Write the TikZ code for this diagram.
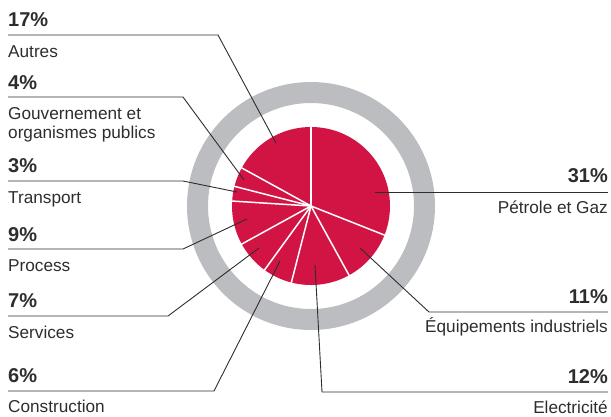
\documentclass[tikz,border=0pt]{standalone}
\usepackage{fontspec}
\setmainfont{Liberation Sans}
\definecolor{piered}{RGB}{210,20,68}
\definecolor{ringgray}{RGB}{188,189,192}
\definecolor{ink}{RGB}{45,45,45}
\begin{document}
\begin{tikzpicture}[x=1pt,y=-1pt,
  pct/.style={font=\fontsize{20}{24}\selectfont\bfseries, text=ink, inner sep=0pt},
  lbl/.style={font=\fontsize{17.2}{19.3}\selectfont, text=ink, inner sep=0pt, align=left},
  lblr/.style={font=\fontsize{17.2}{19.3}\selectfont, text=ink, inner sep=0pt, align=right},
  leader/.style={draw=ink, line width=0.9pt},
  sep/.style={draw=white, line width=1.5pt}]
\useasboundingbox (0,0) rectangle (611,416);
% pie and ring
\coordinate (c) at (311,206);
\draw[ringgray, line width=21pt] (c) circle[radius=113.5];
\fill[piered] (c) circle[radius=79];
\foreach \a in {-90,21.6,61.2,104.4,126,151.2,183.6,194.4,208.8}
  \draw[sep] (c) -- ++(\a:80);
% left labels
\node[pct, anchor=base west] (p17) at (8,26) {17\%};
\node[lbl, anchor=base west] (l17) at (8,57) {Autres};
\node[pct, anchor=base west] (p4) at (8,89) {4\%};
\node[lbl, anchor=base west] (l4) at (8,138.5) {Gouvernement et\\organismes publics};
\node[pct, anchor=base west] (p3) at (8,172) {3\%};
\node[lbl, anchor=base west] (l3) at (8,203) {Transport};
\node[pct, anchor=base west] (p9) at (8,241) {9\%};
\node[lbl, anchor=base west] (l9) at (8,271) {Process};
\node[pct, anchor=base west] (p7) at (8,307) {7\%};
\node[lbl, anchor=base west] (l7) at (8,338) {Services};
\node[pct, anchor=base west] (p6) at (8,382) {6\%};
\node[lbl, anchor=base west] (l6) at (8,412) {Construction};
% right labels
\node[pct, anchor=base east] (p31) at (608,182) {31\%};
\node[lblr, anchor=base east] (l31) at (608,213) {Pétrole et Gaz};
\node[pct, anchor=base east] (p11) at (608,303) {11\%};
\node[lblr, anchor=base east] (l11) at (608,332) {Équipements industriels};
\node[pct, anchor=base east] (p12) at (608,383) {12\%};
\node[lblr, anchor=base east] (l12) at (608,413) {Electricité};
% leader coordinates
\coordinate (a0) at (8,35);   \coordinate (a1) at (218,35);  \coordinate (a2) at (276,143);
\coordinate (g0) at (8,97);   \coordinate (g1) at (183,97);  \coordinate (g2) at (244,180);
\coordinate (t0) at (8,181);  \coordinate (t1) at (183,181); \coordinate (t2) at (237,192);
\coordinate (r0) at (8,249);  \coordinate (r1) at (183,249); \coordinate (r2) at (247,219);
\coordinate (s0) at (8,316);  \coordinate (s1) at (168,316); \coordinate (s2) at (259,248);
\coordinate (k0) at (8,391);  \coordinate (k1) at (214,391); \coordinate (k2) at (280,261);
\coordinate (o0) at (608,192); \coordinate (o2) at (375,192);
\coordinate (e0) at (608,312); \coordinate (e1) at (429,312); \coordinate (e2) at (360,248);
\coordinate (x0) at (608,392); \coordinate (x1) at (322,392); \coordinate (x2) at (315,265);
% leaders
\draw[leader] (a0) -- (a1) -- (a2);
\draw[leader] (g0) -- (g1) -- (g2);
\draw[leader] (t0) -- (t1) -- (t2);
\draw[leader] (r0) -- (r1) -- (r2);
\draw[leader] (s0) -- (s1) -- (s2);
\draw[leader] (k0) -- (k1) -- (k2);
\draw[leader] (o0) -- (o2);
\draw[leader] (e0) -- (e1) -- (e2);
\draw[leader] (x0) -- (x1) -- (x2);
\end{tikzpicture}
\end{document}
